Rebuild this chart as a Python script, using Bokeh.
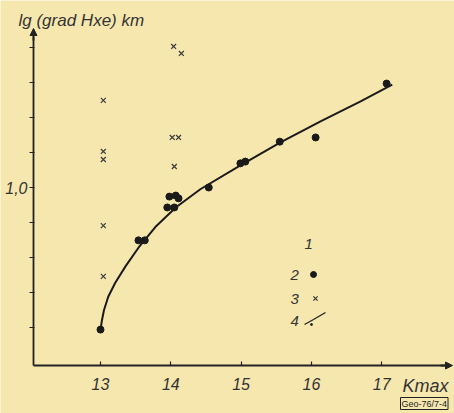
from bokeh.plotting import figure
from bokeh.models import (Range1d, FixedTicker, CustomJSTickFormatter, Label, Arrow,
                          NormalHead)
from bokeh.embed import file_html
from bokeh.resources import INLINE

# ---- data ----
dots_x = [13.0, 13.54, 13.63, 13.95, 14.05, 13.98, 14.07, 14.11, 14.54, 14.99, 15.06, 15.55, 16.06, 17.07]
dots_y = [0.594, 0.849, 0.849, 0.943, 0.943, 0.974, 0.977, 0.969, 1.0, 1.069, 1.074, 1.131, 1.143, 1.297]

cross_x = [13.04, 13.04, 13.04, 13.04, 13.04, 14.04, 14.15, 14.02, 14.11, 14.05]
cross_y = [1.249, 1.103, 1.080, 0.891, 0.746, 1.403, 1.383, 1.143, 1.143, 1.060]

curve_x = [13.0, 13.02, 13.05, 13.11, 13.21, 13.36, 13.54, 13.78, 14.07, 14.42, 14.99, 15.56, 16.13, 16.70, 17.15]
curve_y = [0.594, 0.620, 0.650, 0.688, 0.728, 0.776, 0.828, 0.887, 0.943, 0.995, 1.063, 1.129, 1.189, 1.246, 1.294]

xticks = [13, 14, 15, 16, 17]
yticks = [0.6, 0.7, 0.8, 0.9, 1.0, 1.1, 1.2, 1.3, 1.4]
legend_labels = ["1", "2", "3", "4"]

PAPER = "#f6e7ae"
INK = "#222222"
TXT = "#333333"
FONT = "Liberation Sans"

W, H = 454, 413

# picture pixel -> data helpers (used only for placing annotation texts/legend)
def dx(px):
    return 13 + (px - 100) / 70.3

def dy(py):
    return 1 - (py - 187) / 350.0

X_AX = dx(33)    # where the y axis stands
Y_AX = dy(365)   # where the x axis stands

p = figure(width=W, height=H, output_backend="svg", toolbar_location=None,
           x_range=Range1d(dx(0), dx(W)), y_range=Range1d(dy(H), dy(0)),
           min_border_left=0, min_border_right=0, min_border_top=0, min_border_bottom=0,
           background_fill_color=PAPER, border_fill_color=PAPER, outline_line_color=None)
p.grid.visible = False

# axes
p.xaxis.ticker = FixedTicker(ticks=xticks)
p.yaxis.ticker = FixedTicker(ticks=yticks)
p.yaxis.formatter = CustomJSTickFormatter(code="return Math.abs(tick - 1) < 1e-9 ? '1,0' : '';")
p.xaxis.fixed_location = Y_AX
p.yaxis.fixed_location = X_AX
p.xaxis.bounds = (X_AX, dx(446))
p.yaxis.bounds = (Y_AX, dy(36))
for ax in (p.xaxis[0], p.yaxis[0]):
    ax.axis_line_color = INK
    ax.axis_line_width = 1.8
    ax.major_tick_line_color = INK
    ax.major_tick_line_width = 1.2
    ax.minor_tick_line_color = None
    ax.major_label_text_font = FONT
    ax.major_label_text_font_style = "italic"
    ax.major_label_text_color = TXT
    ax.major_label_text_font_size = "16px"
p.xaxis.major_tick_in = 4
p.xaxis.major_tick_out = 0
p.xaxis.major_label_standoff = 12
p.yaxis.major_tick_in = 1
p.yaxis.major_tick_out = 4
p.yaxis.major_label_standoff = 2

# arrow heads on the axes
p.add_layout(Arrow(end=NormalHead(size=7, fill_color=INK, line_color=INK),
                   x_start=dx(440), y_start=Y_AX, x_end=dx(452), y_end=Y_AX,
                   line_color=INK, line_width=1.8))
p.add_layout(Arrow(end=NormalHead(size=7, fill_color=INK, line_color=INK),
                   x_start=X_AX, y_start=dy(40), x_end=X_AX, y_end=dy(28),
                   line_color=INK, line_width=1.8))

# series 4: curve
p.line(curve_x, curve_y, line_color="#1a1a1a", line_width=2)
# series 2: dots
p.scatter(dots_x, dots_y, marker="circle", size=7, fill_color="#1a1a1a", line_color="#1a1a1a")
# series 3: crosses
p.scatter(cross_x, cross_y, marker="x", size=7, line_color="#3a3a3a", line_width=1.2)

def lab(text, px, py, size, align="left", **kw):
    p.add_layout(Label(x=dx(px), y=dy(py), text=text, text_font=FONT, text_font_style="italic",
                       text_font_size=size, text_color=TXT, text_align=align,
                       text_baseline="middle", **kw))

lab("lg (grad Hxe) km", 18, 20, "17px")
lab("Kmax", 402, 385, "18px")

# manual legend
lab(legend_labels[0], 304, 243, "15px")
lab(legend_labels[1], 290, 274, "15px")
lab(legend_labels[2], 290, 298, "15px")
lab(legend_labels[3], 290, 320, "15px")
p.scatter([dx(313)], [dy(274)], marker="circle", size=6, fill_color="#1a1a1a", line_color="#1a1a1a")
p.scatter([dx(315)], [dy(298)], marker="x", size=6, line_color="#3a3a3a", line_width=1.2)
p.line([dx(304), dx(313), dx(325)], [dy(324), dy(319), dy(312)], line_color=INK, line_width=1.3)
p.scatter([dx(311)], [dy(324)], marker="circle", size=2, fill_color=INK, line_color=INK)

p.add_layout(Label(x=dx(400), y=dy(403), text="Geo-76/7-4", text_font=FONT, text_font_size="9px",
                   text_color=INK, text_baseline="middle", background_fill_color=PAPER,
                   border_line_color=INK, border_line_width=1, padding=1))

open("out.html", "w").write(file_html(p, INLINE))
